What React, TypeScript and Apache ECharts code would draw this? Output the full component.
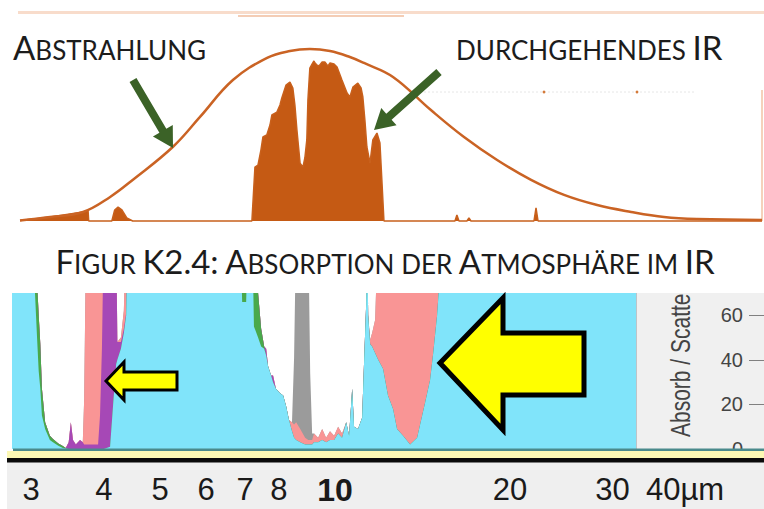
import React, { useEffect, useRef } from 'react';
import * as echarts from 'echarts';

// ---------- top panel: outgoing radiation vs. transmitted IR (wavelength µm, relative intensity 0-100)
const TOP_RANGE_UM = [3.41, 52.2];
const EMIT_WL = [3.41, 3.81, 4.30, 4.75, 5.16, 5.98, 6.61, 7.46, 8.46, 9.20, 9.90, 10.66, 11.47, 12.08, 13.44, 15.45, 17.45, 19.71, 22.33, 25.21, 28.47, 32.26, 36.41, 41.11, 52.2];
const EMIT_VAL = [0.3, 2.2, 5.0, 13.3, 22.7, 40.9, 57.5, 77.9, 90.1, 93.9, 95.0, 93.9, 90.6, 87.3, 79.6, 61.3, 46.4, 33.7, 22.7, 14.4, 8.8, 5.0, 2.2, 1.1, 0.6];
const TRANS_WL = [
  3.41, 3.81, 4.30, 4.38, 4.39, 4.78, 4.83, 4.89, 4.96, 5.05,
  5.16, 8.00, 8.09, 8.18, 8.27, 8.33, 8.45, 8.55, 8.61, 8.77,
  8.87, 8.93, 9.07, 9.20, 9.30, 9.37, 9.44, 9.55, 9.65, 9.72,
  9.79, 9.83, 9.90, 9.98, 10.05, 10.09, 10.20, 10.27, 10.35, 10.46,
  10.58, 10.66, 10.82, 10.94, 11.14, 11.35, 11.47, 11.60, 11.81, 11.95,
  12.03, 12.12, 12.21, 12.35, 12.48, 12.67, 12.81, 12.90, 13.00, 16.88,
  17.00, 17.13, 17.64, 17.77, 17.90, 22.57, 22.74, 22.91, 52.2,
];
const TRANS_VAL = [
  0.3, 2.2, 5.0, 5.5, 0, 0, 6.1, 7.7, 6.1, 1.7,
  0, 0, 29.8, 30.9, 39.2, 46.4, 47.5, 53.0, 58.6, 60.2,
  64.1, 68.0, 75.1, 76.8, 73.5, 64.1, 50.3, 32.0, 29.8, 34.8,
  44.8, 66.9, 84.5, 86.7, 88.4, 87.3, 85.6, 86.2, 87.8, 87.8,
  85.6, 87.3, 86.7, 85.1, 77.9, 70.7, 68.5, 74.0, 76.2, 73.5,
  68.5, 55.8, 40.9, 32.0, 44.8, 48.6, 43.1, 22.7, 0, 0,
  3.3, 0, 0, 1.7, 0, 0, 7.2, 0, 0,
];

// ---------- bottom panel: absorption (%) by gas, wavelength µm
const BOTTOM_RANGE_UM = [2.78, 54.7];
const ABS_WL = [
  2.78, 3.02, 3.045, 3.07, 3.09, 3.11, 3.13, 3.17, 3.23, 3.27,
  3.34, 3.40, 3.44, 3.48, 3.51, 3.54, 3.58, 3.64, 3.68, 3.70,
  3.73, 3.91, 3.94, 3.97, 4.00, 4.10, 4.15, 4.20, 4.22, 4.28,
  4.33, 4.37, 4.40, 6.86, 6.92, 7.03, 7.08, 7.20, 7.25, 7.37,
  7.46, 7.55, 7.61, 7.67, 7.76, 7.82, 7.91, 8.04, 8.14, 8.24,
  8.33, 8.43, 8.50, 8.57, 8.71, 8.88, 8.99, 9.06, 9.13, 9.20,
  9.35, 9.50, 9.65, 9.80, 9.96, 10.12, 10.28, 10.45, 10.57, 10.70,
  10.78, 10.95, 11.13, 11.22, 11.31, 11.35, 11.40, 11.49, 11.58, 11.72,
  11.86, 12.09, 12.33, 12.58, 12.78, 13.09, 13.46, 13.84, 14.12, 14.29,
  14.57, 14.75, 14.98, 15.16, 15.34, 32.96,
];
const H2O = [
  100, 100, 70, 50, 35, 27, 15, 9, 4, 3,
  1.5, 0.5, 0.2, 0, 0, 0, 0, 0, 0, 0,
  0, 0, 0, 0, 0, 1, 20, 38, 40, 45,
  52, 60, 100, 100, 66, 66, 100, 100, 55, 50,
  46, 45, 42, 37, 33, 30, 27, 25, 24, 19,
  13, 8, 5, 4, 3, 2, 2, 2, 2, 3,
  3, 4, 3, 4, 4, 7, 5, 12, 6, 27,
  10, 9, 14, 40, 65, 100, 60, 47, 46, 43,
  40, 36, 24, 18, 9, 6, 2, 5, 15, 21,
  31, 43, 60, 80, 100, 100,
];
const CH4 = [
  0, 0, 30, 25, 25, 20, 12, 3, 2, 1.5,
  1, 0.8, 0.3, 0, 0, 0, 0, 0, 0, 0,
  0, 0, 0, 0, 0, 0, 0, 0, 0, 0,
  0, 0, 0, 0, 40, 40, 0, 0, 45, 20,
  8, 1, 0, 0, 0, 0, 0, 0, 0, 0,
  0, 0, 0, 0, 0, 0, 0, 0, 0, 0,
  0, 0, 0, 0, 0, 0, 0, 0, 0, 0,
  0, 0, 0, 0, 0, 0, 0, 0, 0, 0,
  0, 0, 0, 0, 0, 0, 0, 0, 0, 0,
  0, 0, 0, 0, 0, 0,
];
const N2O = [
  0, 0, 0, 0, 0, 0, 0, 0, 0, 0,
  0, 0, 0, 3, 12, 4, 2, 4, 3, 2,
  2, 2, 15, 45, 100, 100, 100, 100, 8, 3,
  2, 1, 0, 0, 0, 0, 0, 0, 0, 0,
  0, 0, 3, 0, 0, 3, 0, 0, 0, 0,
  0, 0, 0, 0, 0, 0, 0, 0, 0, 0,
  0, 0, 0, 0, 0, 0, 0, 0, 0, 0,
  0, 0, 0, 0, 0, 0, 0, 0, 0, 0,
  0, 0, 0, 0, 0, 0, 0, 0, 0, 0,
  0, 0, 0, 0, 0, 0,
];
const CO2 = [
  0, 0, 0, 0, 0, 0, 0, 0, 0, 0,
  0, 0, 0, 0, 0, 0, 0, 0, 0, 20,
  100, 100, 100, 100, 100, 0, 0, 0, 0, 2,
  8, 100, 0, 0, 0, 0, 0, 0, 0, 0,
  0, 0, 0, 0, 0, 0, 0, 0, 0, 0,
  0, 4, 6, 8, 6, 3, 2, 2, 2, 4,
  2, 5, 2, 4, 2, 3, 2, 0, 0, 0,
  0, 0, 0, 0, 0, 0, 0, 2, 6, 15,
  100, 100, 100, 100, 100, 100, 100, 100, 100, 100,
  100, 100, 100, 100, 0, 0,
];
const O3 = [
  0, 0, 0, 0, 0, 0, 0, 0, 0, 0,
  0, 0, 0, 0, 0, 0, 0, 0, 0, 0,
  0, 0, 0, 0, 0, 0, 0, 0, 0, 0,
  0, 0, 0, 0, 0, 0, 0, 0, 0, 0,
  0, 0, 0, 0, 0, 0, 0, 0, 0, 0,
  0, 0, 30, 100, 100, 100, 100, 30, 3, 0,
  0, 0, 0, 0, 0, 0, 0, 0, 0, 0,
  0, 0, 0, 0, 0, 0, 0, 0, 0, 0,
  0, 0, 0, 0, 0, 0, 0, 0, 0, 0,
  0, 0, 0, 0, 0, 0,
];

const X_LABELS = [3, 4, 5, 6, 7, 8, 10, 20, 30, 40];
const X_TICKS = [3, 4, 5, 6, 7, 8, 9, 10, 20, 30, 40, 50];
const Y_LABELS = [0, 20, 40, 60];
const Y_RANGE = [0, 70];

const lg = (v: number) => Math.log10(v);

function arrow(x1: number, y1: number, x2: number, y2: number, shaft: number, head: number, headLen: number) {
  const dx = x2 - x1, dy = y2 - y1;
  const L = Math.hypot(dx, dy);
  const ux = dx / L, uy = dy / L;
  const nx = -uy, ny = ux;
  const bx = x2 - ux * headLen, by = y2 - uy * headLen;
  return [
    [x1 + nx * shaft, y1 + ny * shaft],
    [bx + nx * shaft, by + ny * shaft],
    [bx + nx * head, by + ny * head],
    [x2, y2],
    [bx - nx * head, by - ny * head],
    [bx - nx * shaft, by - ny * shaft],
    [x1 - nx * shaft, y1 - ny * shaft],
  ];
}

function buildOption() {
  const cap = (v: number) => Math.min(100, v);
  const c1 = H2O.map((v) => cap(v));
  const c2 = H2O.map((v, i) => cap(v + CH4[i]));
  const c3 = H2O.map((v, i) => cap(v + CH4[i] + N2O[i]));
  const c4 = H2O.map((v, i) => cap(v + CH4[i] + N2O[i] + CO2[i]));
  const c5 = H2O.map((v, i) => cap(v + CH4[i] + N2O[i] + CO2[i] + O3[i]));
  const layers = [
    { name: 'O3', cum: c5, color: '#9b9b9b' },
    { name: 'CO2', cum: c4, color: '#f99595' },
    { name: 'N2O', cum: c3, color: '#a648b6' },
    { name: 'CH4', cum: c2, color: '#49a94b' },
    { name: 'H2O', cum: c1, color: '#80e4fa' },
  ];
  const bottomSeries = layers.map((l) => ({
    type: 'line',
    name: l.name,
    xAxisIndex: 1,
    yAxisIndex: 1,
    data: ABS_WL.map((w, i) => [lg(w), l.cum[i]]),
    symbol: 'none',
    lineStyle: { width: 0 },
    itemStyle: { color: l.color },
    areaStyle: { color: l.color, opacity: 1 },
    z: 2,
    silent: true,
  }));

  const labelFont = 'Liberation Sans, Arial, sans-serif';
  const capsFont = 'Lato, Open Sans, sans-serif';
  const big = (fs: number) => ({ fontSize: fs, fontFamily: capsFont, fill: '#1c1c1c', lineHeight: Math.round(fs * 0.774), verticalAlign: 'bottom' });
  const rich = { b: big(33), s: big(26) };
  const green = '#3b6227';

  return {
    animation: false,
    grid: [
      { left: 20, right: 2, top: 40, height: 181 },
      { left: 12, right: 0, top: 293, height: 156 },
    ],
    xAxis: [
      { gridIndex: 0, type: 'value', min: lg(TOP_RANGE_UM[0]), max: lg(TOP_RANGE_UM[1]), show: false },
      {
        gridIndex: 1, type: 'value', min: lg(BOTTOM_RANGE_UM[0]), max: lg(BOTTOM_RANGE_UM[1]),
        position: 'bottom', offset: 11, z: 5,
        axisLine: { show: false }, splitLine: { show: false },
        axisTick: { show: true, length: 10, lineStyle: { color: '#9a9a9a', width: 1 }, customValues: X_TICKS.map(lg) },
        axisLabel: {
          customValues: X_LABELS.map(lg), fontSize: 31, color: '#1a1a1a', fontFamily: labelFont, margin: 14,
          formatter: (v: number) => {
            const n = Math.round(Math.pow(10, v));
            if (n === 10) return '{d|10}';
            return n === 40 ? '40µm' : String(n);
          },
          rich: {
            d: { fontSize: 32, fontFamily: labelFont, fontWeight: 'bold', color: '#1a1a1a' },
          },
        },
      },
    ],
    yAxis: [
      { gridIndex: 0, type: 'value', min: 0, max: 100, show: false },
      {
        gridIndex: 1, type: 'value', min: Y_RANGE[0], max: Y_RANGE[1], position: 'right', z: 5,
        axisLine: { show: false }, splitLine: { show: false },
        axisTick: { show: true, inside: true, length: 15, customValues: Y_LABELS, lineStyle: { color: '#808080' } },
        axisLabel: { inside: true, margin: 21, customValues: Y_LABELS, fontSize: 20, color: '#444', fontFamily: labelFont },
      },
    ],
    series: [
      {
        type: 'line', name: 'Durchgehendes IR', xAxisIndex: 0, yAxisIndex: 0,
        data: TRANS_WL.map((w, i) => [lg(w), TRANS_VAL[i]]),
        symbol: 'none', clip: false,
        lineStyle: { color: '#c8601c', width: 1.5 },
        areaStyle: { color: '#c55a14', opacity: 1 }, z: 2, silent: true,
      },
      {
        type: 'line', name: 'Abstrahlung', xAxisIndex: 0, yAxisIndex: 0,
        data: EMIT_WL.map((w, i) => [lg(w), EMIT_VAL[i]]),
        symbol: 'none', smooth: 0.4, clip: false,
        lineStyle: { color: '#ca6324', width: 2.5 }, z: 3, silent: true,
      },
      ...bottomSeries,
    ],
    graphic: [
      // top decorations
      { type: 'rect', z: 0, shape: { x: 18, y: 11, width: 746, height: 3 }, style: { fill: '#f8dccb' } },
      { type: 'rect', z: 0, shape: { x: 238, y: 15, width: 166, height: 2 }, style: { fill: '#f4cdb5' } },
      { type: 'line', z: 0, shape: { x1: 424, y1: 92, x2: 694, y2: 92 }, style: { stroke: '#e6e6e6', lineWidth: 1, lineDash: [2, 2] } },
      { type: 'circle', z: 1, shape: { cx: 544, cy: 92, r: 1.4 }, style: { fill: '#d47a3a' } },
      { type: 'circle', z: 1, shape: { cx: 637, cy: 92, r: 1.4 }, style: { fill: '#d47a3a' } },
      { type: 'line', z: 0, shape: { x1: 762, y1: 90, x2: 762, y2: 221 }, style: { stroke: '#f2c3a4', lineWidth: 1.5 } },
      // top labels
      { type: 'text', z: 10, x: 13, y: 63, style: { text: '{b|A}{s|BSTRAHLUNG}', rich, fontSize: 26, fontFamily: capsFont, align: 'left', textAlign: 'left', verticalAlign: 'bottom', textVerticalAlign: 'bottom' } },
      { type: 'text', z: 10, x: 456, y: 63, style: { text: '{s|DURCHGEHENDES} {b|IR}', rich, fontSize: 26, fontFamily: capsFont, align: 'left', textAlign: 'left', verticalAlign: 'bottom', textVerticalAlign: 'bottom' } },
      { type: 'polygon', z: 10, shape: { points: arrow(133, 80, 173, 148, 4, 11.5, 20) }, style: { fill: green } },
      { type: 'polygon', z: 10, shape: { points: arrow(439, 72, 374, 130, 4, 11.5, 20) }, style: { fill: green } },
      // title
      {
        type: 'text', z: 10, x: 385, y: 277,
        style: {
          text: '{b|F}{s|IGUR} {b|K2.4:} {b|A}{s|BSORPTION} {s|DER} {b|A}{s|TMOSPHÄRE} {s|IM} {b|IR}',
          rich, fontSize: 26, fontFamily: capsFont, align: 'center', textAlign: 'center', verticalAlign: 'bottom', textVerticalAlign: 'bottom',
        },
      },
      // bottom panel frame
      { type: 'rect', z: 0, shape: { x: 636, y: 293, width: 128, height: 157 }, style: { fill: '#f0f0f0' } },
      { type: 'rect', z: 0, shape: { x: 7, y: 462, width: 757, height: 47 }, style: { fill: '#efefef' } },
      {
        type: 'text', z: 6, x: 680, y: 437, rotation: Math.PI / 2, scaleX: 0.75,
        style: { text: 'Absorb / Scatte', fontSize: 28, fontFamily: labelFont, fill: '#444', align: 'left', textAlign: 'left', verticalAlign: 'middle', textVerticalAlign: 'middle' },
      },
      { type: 'rect', z: 10, shape: { x: 13, y: 448.5, width: 751, height: 2.5 }, style: { fill: '#4a8a8c' } },
      { type: 'rect', z: 10, shape: { x: 7, y: 451, width: 757, height: 7 }, style: { fill: '#fcf8b4' } },
      { type: 'rect', z: 10, shape: { x: 7, y: 458, width: 757, height: 4.5 }, style: { fill: '#0a0a0a' } },
      // yellow arrows
      {
        type: 'polygon', z: 10,
        shape: { points: [[106, 381], [124, 362], [124, 372], [177, 372], [177, 390], [124, 390], [124, 400]] },
        style: { fill: '#ffff00', stroke: '#000', lineWidth: 3, lineJoin: 'miter' },
      },
      {
        type: 'polygon', z: 10,
        shape: { points: [[440, 363], [503, 298], [503, 333], [584, 333], [584, 395], [503, 395], [503, 430]] },
        style: { fill: '#ffff00', stroke: '#000', lineWidth: 5, lineJoin: 'miter' },
      },
    ],
  };
}

export default function App() {
  const ref = useRef<HTMLDivElement>(null);
  useEffect(() => {
    if (!ref.current) return;
    const chart = echarts.init(ref.current, undefined, { renderer: 'svg' });
    chart.setOption(buildOption() as any);
    return () => chart.dispose();
  }, []);
  return (
    <div
      ref={ref}
      style={{ position: 'fixed', left: 0, top: 0, width: 764, height: 509, background: '#fff' }}
    />
  );
}
